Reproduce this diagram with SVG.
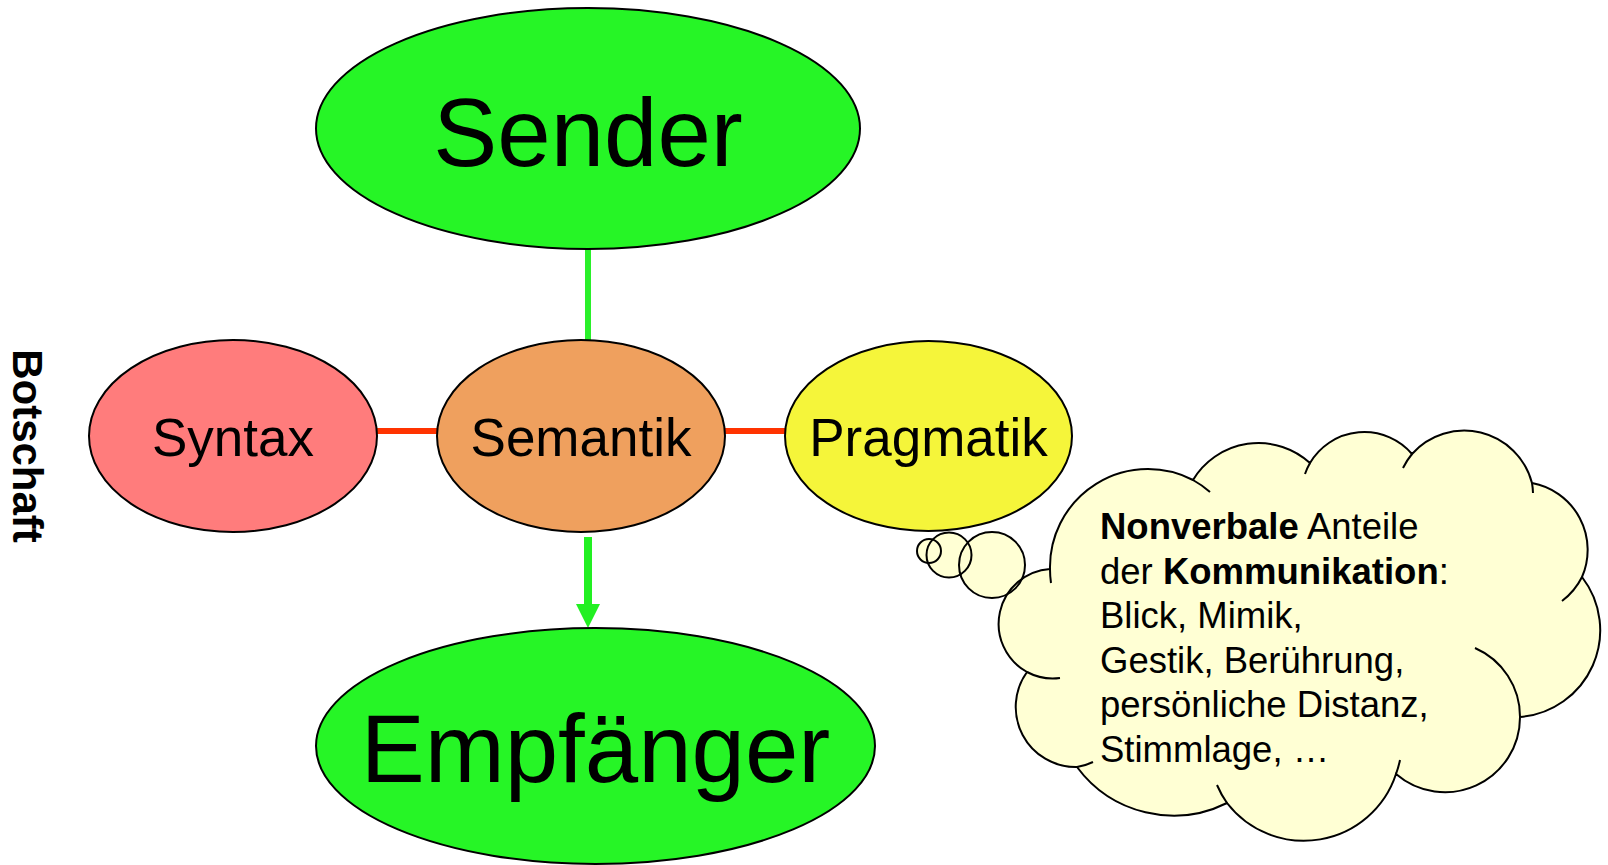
<svg xmlns="http://www.w3.org/2000/svg" width="1608" height="865" viewBox="0 0 1608 865">
<defs>
<style>
.node{stroke:#000;stroke-width:2}
.t{font-family:"Liberation Sans",Arial,sans-serif;fill:#000}
.cl{fill:#FFFFD4}
.ol{fill:none;stroke:#000;stroke-width:2}
</style>
</defs>
<rect width="1608" height="865" fill="#fff"/>
<g id="connectors">
<line x1="588" y1="249" x2="588" y2="341" stroke="#2AF02A" stroke-width="6"/>
<line x1="377" y1="431" x2="437" y2="431" stroke="#FF3300" stroke-width="6"/>
<line x1="725" y1="431" x2="785" y2="431" stroke="#FF3300" stroke-width="6"/>
<line x1="588" y1="537" x2="588" y2="605" stroke="#22F022" stroke-width="8"/>
<path d="M576,604 L600,604 L588,628 Z" fill="#22F022"/>
</g>
<g id="sender">
<ellipse class="node" cx="588" cy="128.5" rx="272" ry="120.5" fill="#26F526"/>
<text class="t" x="588" y="166" font-size="96" text-anchor="middle">Sender</text>
</g>
<g id="syntax">
<ellipse class="node" cx="233" cy="436" rx="144" ry="96" fill="#FF7C7C"/>
<text class="t" x="233" y="456" font-size="53" text-anchor="middle">Syntax</text>
</g>
<g id="semantik">
<ellipse class="node" cx="581" cy="436" rx="144" ry="96" fill="#EFA05E"/>
<text class="t" x="581" y="456" font-size="53" text-anchor="middle">Semantik</text>
</g>
<g id="pragmatik">
<ellipse class="node" cx="928.5" cy="436" rx="143.5" ry="95" fill="#F5F53A"/>
<text class="t" x="928.5" y="456" font-size="53" text-anchor="middle">Pragmatik</text>
</g>
<g id="empfaenger">
<ellipse class="node" cx="595.5" cy="746" rx="279.5" ry="118" fill="#26F526"/>
<text class="t" x="595.5" y="782" font-size="96" text-anchor="middle">Empfänger</text>
</g>
<g id="botschaft">
<text class="t" transform="translate(13,446) rotate(90)" font-size="42" font-weight="bold" text-anchor="middle">Botschaft</text>
</g>
<g id="cloud">
<circle class="cl" cx="929" cy="551" r="12"/>
<circle class="cl" cx="949" cy="555" r="22.5"/>
<circle class="cl" cx="992" cy="565" r="33"/>
<path class="cl" d="M1050,569 A98,98 0 0 1 1193,480 A76.5,76.5 0 0 1 1310,463 A63,63 0 0 1 1412,454 A70,70 0 0 1 1532,483 A68,68 0 0 1 1582,577 A87,87 0 0 1 1520,717 A75,75 0 0 1 1396,774 A97,97 0 0 1 1227,803 A120,120 0 0 1 1077,767 A60,60 0 0 1 1027,672 A55,55 0 0 1 1050,569 Z"/>
<circle class="ol" cx="929" cy="551" r="12"/>
<circle class="ol" cx="949" cy="555" r="22.5"/>
<circle class="ol" cx="992" cy="565" r="33"/>
<path class="ol" d="M1050,569 A98,98 0 0 1 1193,480 A76.5,76.5 0 0 1 1310,463 A63,63 0 0 1 1412,454 A70,70 0 0 1 1532,483 A68,68 0 0 1 1582,577 A87,87 0 0 1 1520,717 A75,75 0 0 1 1396,774 A97,97 0 0 1 1227,803 A120,120 0 0 1 1077,767 A60,60 0 0 1 1027,672 A55,55 0 0 1 1050,569 Z"/>
<path class="ol" d="M1050,569 A98,98 0 0 0 1051,583 M1193,480 A98,98 0 0 1 1210,492 M1310,463 A63,63 0 0 0 1305,474 M1412,454 A70,70 0 0 0 1403,468 M1532,483 A70,70 0 0 1 1533,493 M1582,577 A68,68 0 0 1 1562,601 M1520,717 A75,75 0 0 0 1475,648 M1396,774 A97,97 0 0 0 1400,760 M1227,803 A97,97 0 0 1 1217,785 M1077,767 A60,60 0 0 0 1093,762 M1027,672 A55,55 0 0 0 1060,678"/>
<text class="t" font-size="36.5">
<tspan x="1100" y="539"><tspan font-weight="bold">Nonverbale</tspan> Anteile</tspan>
<tspan x="1100" y="583.5">der <tspan font-weight="bold">Kommunikation</tspan>:</tspan>
<tspan x="1100" y="628">Blick, Mimik,</tspan>
<tspan x="1100" y="672.5">Gestik, Berührung,</tspan>
<tspan x="1100" y="717">persönliche Distanz,</tspan>
<tspan x="1100" y="761.5">Stimmlage, …</tspan>
</text>
</g>
</svg>
